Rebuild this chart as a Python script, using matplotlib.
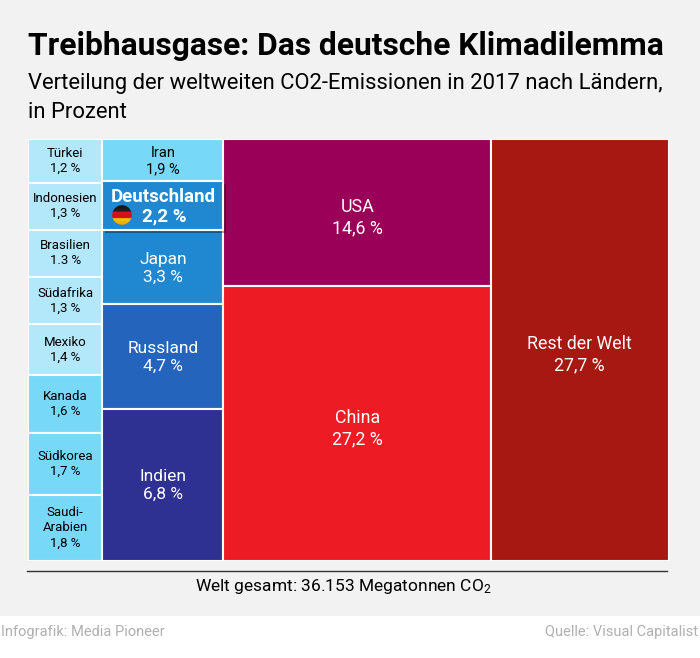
import numpy as np
import matplotlib.pyplot as plt
from matplotlib.patches import Rectangle, Circle
import matplotlib.patheffects as pe
from matplotlib.colors import LinearSegmentedColormap

plt.rcParams['font.family'] = ['Roboto', 'DejaVu Sans']
plt.rcParams['mathtext.default'] = 'regular'

# columns of the treemap, top to bottom
col1_names = ['Türkei', 'Indonesien', 'Brasilien', 'Südafrika', 'Mexiko', 'Kanada', 'Südkorea', 'Saudi-\nArabien']
col1_values = [1.2, 1.3, 1.3, 1.3, 1.4, 1.6, 1.7, 1.8]
col1_labels = ['1,2 %', '1,3 %', '1.3 %', '1,3 %', '1,4 %', '1,6 %', '1,7 %', '1,8 %']
col1_colors = ['#b3e8fb', '#b3e8fb', '#b3e8fb', '#b3e8fb', '#b3e8fb', '#77d8f8', '#77d8f8', '#77d8f8']

col2_names = ['Iran', 'Deutschland', 'Japan', 'Russland', 'Indien']
col2_values = [1.9, 2.2, 3.3, 4.7, 6.8]
col2_labels = ['1,9 %', '2,2 %', '3,3 %', '4,7 %', '6,8 %']
col2_colors = ['#77d8f8', '#2088d0', '#2088d0', '#2464bd', '#2e3192']

col3_names = ['USA', 'China']
col3_values = [14.6, 27.2]
col3_labels = ['14,6 %', '27,2 %']
col3_colors = ['#9b0058', '#ed1c24']

col4_names = ['Rest der Welt']
col4_values = [27.7]
col4_labels = ['27,7 %']
col4_colors = ['#a81812']

columns = [
    (col1_names, col1_values, col1_labels, col1_colors, 9.5, 1.2, 0),
    (col2_names, col2_values, col2_labels, col2_colors, 12.5, 1.25, 0.002),
    (col3_names, col3_values, col3_labels, col3_colors, 12.8, 1.25, 0.012),
    (col4_names, col4_values, col4_labels, col4_colors, 12.8, 1.25, 0.012),
]

W, H = 700, 658
fig = plt.figure(figsize=(W / 100, H / 100), dpi=100, facecolor='white')

# grey panel behind everything
fig.patches.append(Rectangle((0, (H - 616) / H), 1, 616 / H, transform=fig.transFigure,
                             facecolor='#f2f2f2', edgecolor='none', zorder=-1))

ax = fig.add_axes([28 / W, (H - 560.5) / H, 640.5 / W, 421.5 / H])
ax.set_xlim(0, sum(sum(c[1]) for c in columns))
ax.set_ylim(1, 0)
ax.axis('off')

x0 = 0
highlight = None
for names, values, labels, colors, size, spacing, nudge in columns:
    width = sum(values)
    y0 = 0
    for name, value, label, color in zip(names, values, labels, colors):
        height = value / width
        if name == 'Deutschland':
            highlight = (x0, y0, width, height, label, color)
        else:
            ax.add_patch(Rectangle((x0, y0), width, height, facecolor=color, edgecolor='white', lw=1.5))
            dark = color in ('#b3e8fb', '#77d8f8')
            # Iran box is too small for the column's text size
            ax.text(x0 + width / 2, y0 + height / 2 + nudge, name + '\n' + label, ha='center', va='center',
                    fontsize=10.5 if name == 'Iran' else size, linespacing=1.2 if name == 'Iran' else spacing,
                    color='black' if dark else 'white')
        y0 += height
    x0 += width

# Deutschland sits on top with a shadow
x, y, w, h, label, color = highlight
box = Rectangle((x, y), w, h, facecolor=color, edgecolor='white', lw=1.5, zorder=5,
                path_effects=[pe.SimplePatchShadow(offset=(2, -2), shadow_rgbFace='black', alpha=0.35),
                              pe.Normal()])
ax.add_patch(box)
ax.text(x + w / 2, y + h * 0.31, 'Deutschland', ha='center', va='center', fontsize=13.5,
        fontweight='bold', color='white', zorder=6)
ax.text(x + w * 0.51, y + h * 0.72, label, ha='center', va='center', fontsize=13.5,
        fontweight='bold', color='white', zorder=6)

# flag
flag_ax = fig.add_axes([112 / W, (H - 225) / H, 20 / W, 20 / H], zorder=3)
flag_ax.axis('off')
flag = LinearSegmentedColormap.from_list('flag', [(0, '#111111'), (0.31, '#222222'), (0.35, '#d8141c'),
                                                  (0.64, '#c8101a'), (0.68, '#f6c800'), (1, '#e0a800')])
img = flag_ax.imshow(np.linspace(0, 1, 60)[:, None], cmap=flag, aspect='auto', extent=(0, 1, 1, 0))
flag_ax.set_xlim(0, 1)
flag_ax.set_ylim(1, 0)
img.set_clip_path(Circle((0.5, 0.5), 0.49, transform=flag_ax.transData))

# header and footer
fig.text(28 / W, (H - 46) / H, 'Treibhausgase: Das deutsche Klimadilemma', fontsize=22.9, fontweight='bold',
         ha='left', va='center')
fig.text(28 / W, (H - 84) / H, 'Verteilung der weltweiten CO2-Emissionen in 2017 nach Ländern,', fontsize=15.8,
         ha='left', va='center')
fig.text(28 / W, (H - 112) / H, 'in Prozent', fontsize=15.8, ha='left', va='center')

fig.add_artist(plt.Line2D([27 / W, 667 / W], [(H - 571) / H] * 2, color='#333333', lw=1))
fig.text(343 / W, (H - 587) / H, 'Welt gesamt: 36.153 Megatonnen CO$_2$', fontsize=12.5, ha='center', va='center')
fig.text(1 / W, (H - 632) / H, 'Infografik: Media Pioneer', fontsize=10.5, color='#b0b0b0', ha='left', va='center')
fig.text(698 / W, (H - 632) / H, 'Quelle: Visual Capitalist', fontsize=10.5, color='#b0b0b0', ha='right', va='center')

fig.savefig('out.png', dpi=100, facecolor='white')
